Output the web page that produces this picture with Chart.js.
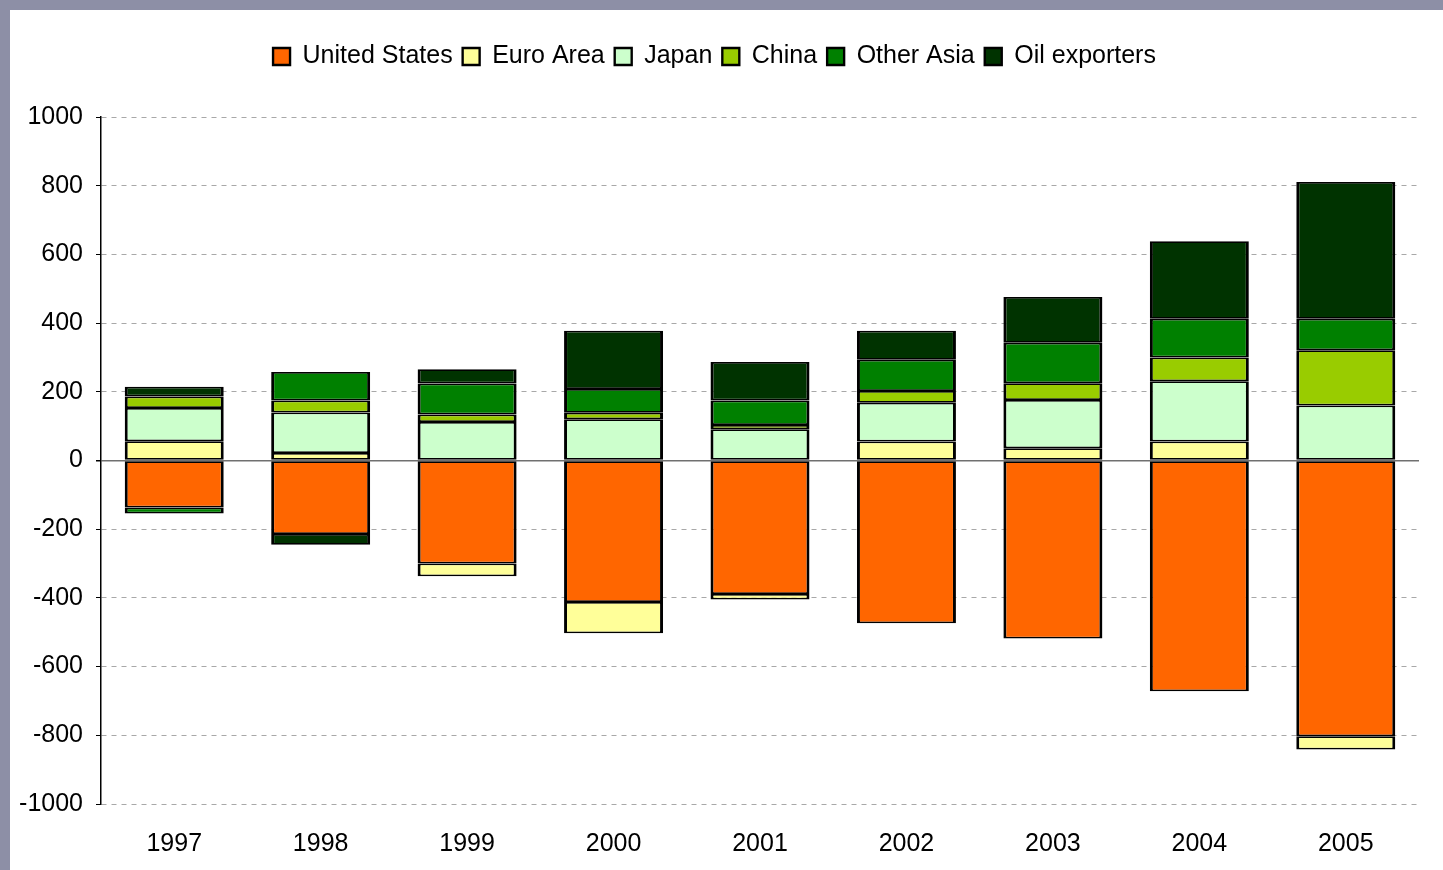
<!DOCTYPE html>
<html lang="en">

<head>
  <meta charset="UTF-8">
  <title>Current account balances</title>
  <script src="https://cdn.jsdelivr.net/npm/chart.js"></script>
  <style>
    body { margin: 0; background: #8d8fa6; }
    #panel { position: absolute; left: 10px; top: 10px; width: 1433px; height: 860px; background: #fff; }
  </style>
</head>

<body>
  <div id="panel"><canvas id="balanceChart" width="1433" height="860"></canvas></div>
  <script>
    var years = ['1997', '1998', '1999', '2000', '2001', '2002', '2003', '2004', '2005'];
    var unitedStates = [-137, -214, -300, -412, -389, -474, -518, -672, -803];
    var euroArea = [56, 22, -37, -91, -16, 55, 36, 55, -38];
    var japan = [97, 118, 112, 120, 91, 113, 140, 176, 160];
    var china = [33, 35, 22, 19, 12, 34, 49, 69, 161];
    var otherAsia = [-17, 83, 90, 69, 72, 91, 118, 113, 92];
    var oilExporters = [29, -31, 42, 170, 112, 85, 133, 225, 398];

    function series(label, values, color) {
      return {
        label: label,
        data: values,
        backgroundColor: color,
        borderColor: '#000',
        borderWidth: { top: 1.75, bottom: 1.75, left: 3, right: 3 },
        borderSkipped: false,
        inflateAmount: 0,
        categoryPercentage: 1,
        barPercentage: 0.676
      };
    }

    // push the plot down below the legend
    var legendGap = {
      id: 'legendGap',
      beforeInit: function (chart) {
        var fit = chart.legend.fit;
        chart.legend.fit = function () {
          fit.bind(chart.legend)();
          this.height += 38;
        };
      }
    };

    Chart.defaults.font.family = "'Liberation Sans', Arial, sans-serif";
    Chart.defaults.color = '#000';

    new Chart(document.getElementById('balanceChart'), {
      type: 'bar',
      data: {
        labels: years,
        datasets: [
          series('United States', unitedStates, '#FF6600'),
          series('Euro Area', euroArea, '#FFFF99'),
          series('Japan', japan, '#CCFFCC'),
          series('China', china, '#99CC00'),
          series('Other Asia', otherAsia, '#008000'),
          series('Oil exporters', oilExporters, '#003300')
        ]
      },
      options: {
        responsive: false,
        animation: false,
        layout: { padding: { top: 24, right: 24, bottom: 0, left: 0 } },
        plugins: {
          tooltip: { enabled: false },
          legend: {
            labels: {
              font: { size: 25 },
              boxWidth: 17,
              boxHeight: 17,
              padding: 10
            }
          }
        },
        scales: {
          x: {
            stacked: true,
            grid: { display: false },
            border: { display: false },
            ticks: { font: { size: 25 }, padding: 17 },
            afterFit: function (scale) { scale.height = 66; }
          },
          y: {
            stacked: true,
            min: -1000,
            max: 1000,
            ticks: {
              stepSize: 200,
              font: { size: 25 },
              padding: 13,
              callback: function (value) { return String(value); }
            },
            grid: {
              color: function (ctx) {
                return ctx.tick && ctx.tick.value === 0 ? '#707070' : '#a8a8a8';
              },
              lineWidth: function (ctx) {
                return ctx.tick && ctx.tick.value === 0 ? 1.5 : 1;
              },
              tickLength: 5,
              tickColor: '#000'
            },
            border: {
              display: true,
              color: '#000',
              width: 1.5,
              dash: function (ctx) {
                return ctx.tick && ctx.tick.value === 0 ? [] : [5, 5];
              }
            },
            afterFit: function (scale) { scale.width = 91; }
          }
        }
      },
      plugins: [legendGap]
    });
  </script>
</body>

</html>
